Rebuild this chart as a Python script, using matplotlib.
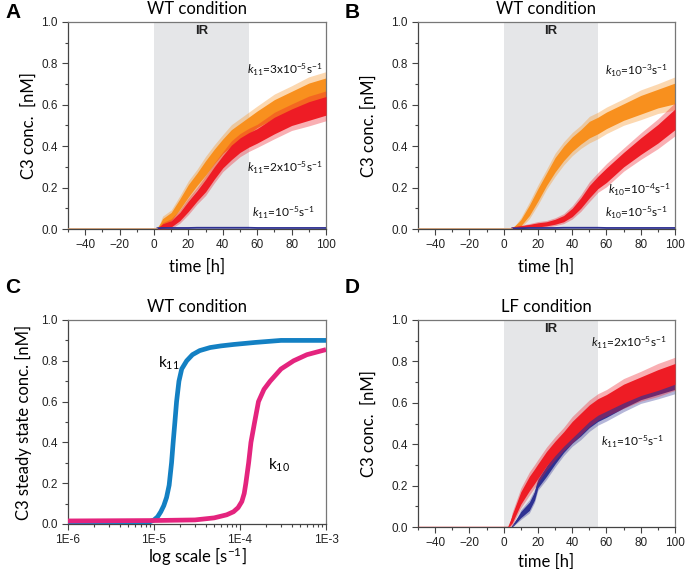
import matplotlib
matplotlib.use("Agg")
import matplotlib.pyplot as plt
from matplotlib.ticker import MultipleLocator, LogLocator, FixedLocator, NullFormatter
import numpy as np

plt.rcParams['font.family'] = ['Lato', 'DejaVu Sans']
plt.rcParams['mathtext.fontset'] = 'custom'
plt.rcParams['mathtext.rm'] = 'Lato'
plt.rcParams['mathtext.it'] = 'Lato:italic'
plt.rcParams['mathtext.bf'] = 'Lato:bold'

# ---------------- data ----------------
# Panel A (WT, varying k11): time [h], centre and half-spread of noisy traces
tA = [2, 5, 10, 15, 20, 25, 30, 35, 40, 45, 50, 55, 60, 70, 80, 90, 100]
A_k11_3e5 = [0.0, 0.03, 0.06, 0.12, 0.185, 0.24, 0.295, 0.35, 0.40, 0.44, 0.47, 0.50, 0.53, 0.58, 0.62, 0.655, 0.68]
A_k11_3e5_sp = [0.0, 0.02, 0.02, 0.025, 0.03, 0.03, 0.035, 0.035, 0.035, 0.04, 0.04, 0.04, 0.04, 0.045, 0.045, 0.05, 0.05]
A_k11_2e5 = [0.0, 0.015, 0.025, 0.06, 0.11, 0.16, 0.21, 0.27, 0.325, 0.37, 0.405, 0.43, 0.45, 0.50, 0.54, 0.57, 0.595]
A_k11_2e5_sp = [0.0, 0.01, 0.015, 0.02, 0.025, 0.025, 0.03, 0.03, 0.03, 0.035, 0.035, 0.035, 0.035, 0.04, 0.04, 0.045, 0.045]
A_k11_1e5 = [0.004, 0.005, 0.005, 0.005, 0.005, 0.006, 0.006, 0.006, 0.006, 0.006, 0.006, 0.006, 0.005, 0.005, 0.005, 0.005, 0.005]

# Panel B (WT, varying k10)
tB = [5, 10, 15, 20, 25, 30, 35, 40, 45, 50, 55, 60, 70, 80, 90, 100]
B_k10_1e3 = [0.0, 0.03, 0.09, 0.165, 0.24, 0.31, 0.365, 0.41, 0.445, 0.48, 0.50, 0.525, 0.565, 0.60, 0.63, 0.655]
B_k10_1e3_sp = [0.0, 0.015, 0.025, 0.03, 0.03, 0.035, 0.035, 0.035, 0.035, 0.04, 0.04, 0.04, 0.04, 0.045, 0.045, 0.05]
B_k10_1e4 = [0.005, 0.01, 0.015, 0.02, 0.025, 0.035, 0.05, 0.08, 0.125, 0.18, 0.225, 0.26, 0.335, 0.40, 0.46, 0.53]
B_k10_1e4_sp = [0.003, 0.005, 0.007, 0.01, 0.01, 0.012, 0.015, 0.02, 0.025, 0.03, 0.03, 0.035, 0.035, 0.04, 0.045, 0.05]
B_k10_1e5 = [0.003, 0.004, 0.005, 0.005, 0.005, 0.005, 0.006, 0.006, 0.006, 0.006, 0.006, 0.005, 0.005, 0.005, 0.005, 0.005]

# Panel C (WT steady state vs rate constant)
k11_rate = [1e-6, 5e-6, 7e-6, 8.9e-6, 1e-5, 1.1e-5, 1.2e-5, 1.3e-5, 1.4e-5, 1.5e-5, 1.6e-5, 1.67e-5,
            1.75e-5, 1.83e-5, 1.95e-5, 2.1e-5, 2.4e-5, 2.8e-5, 3.4e-5, 4.5e-5, 6e-5, 8.4e-5, 1.5e-4, 3e-4, 1e-3]
C_k11 = [0.0, 0.0, 0.003, 0.01, 0.02, 0.035, 0.06, 0.09, 0.13, 0.19, 0.3, 0.4,
         0.5, 0.6, 0.7, 0.76, 0.80, 0.83, 0.85, 0.865, 0.873, 0.88, 0.89, 0.9, 0.9]
k10_rate = [1e-6, 1e-5, 3e-5, 5e-5, 7e-5, 8.4e-5, 9.5e-5, 1.05e-4, 1.12e-4, 1.17e-4, 1.26e-4, 1.34e-4,
            1.48e-4, 1.64e-4, 1.9e-4, 2.24e-4, 3e-4, 4.2e-4, 6e-4, 1e-3]
C_k10 = [0.015, 0.017, 0.02, 0.03, 0.045, 0.06, 0.08, 0.11, 0.15, 0.2, 0.3, 0.4,
         0.5, 0.6, 0.66, 0.7, 0.76, 0.80, 0.83, 0.855]

# Panel D (LF, varying k11)
tD = [3, 5, 10, 15, 18, 20, 25, 30, 35, 40, 45, 50, 55, 60, 70, 80, 90, 100]
D_k11_2e5 = [0.0, 0.04, 0.14, 0.21, 0.245, 0.27, 0.33, 0.38, 0.425, 0.47, 0.51, 0.55, 0.58, 0.60, 0.645, 0.68, 0.71, 0.74]
D_k11_2e5_sp = [0.0, 0.02, 0.03, 0.035, 0.035, 0.035, 0.035, 0.035, 0.035, 0.04, 0.04, 0.04, 0.04, 0.04, 0.045, 0.045, 0.05, 0.05]
tD2 = [5, 10, 15, 18, 20, 25, 30, 35, 40, 45, 50, 55, 60, 70, 80, 90, 100]
D_k11_1e5 = [0.0, 0.06, 0.10, 0.15, 0.21, 0.27, 0.33, 0.385, 0.43, 0.47, 0.51, 0.54, 0.56, 0.605, 0.645, 0.675, 0.70]
D_k11_1e5_sp = [0.0, 0.015, 0.02, 0.02, 0.02, 0.025, 0.025, 0.025, 0.025, 0.03, 0.03, 0.03, 0.03, 0.03, 0.03, 0.035, 0.035]

IR_start, IR_end = 0, 55

# ---------------- style ----------------
ORANGE = '#F8901E'
RED = '#EE1C25'
NAVY = '#2E3192'
CBLUE = '#1380C3'
PINK = '#E4247E'
GRAY_BAND = '#E5E6E8'
SPINE = '#444444'

TICKFONT = 'Liberation Sans'
LABSIZE = 12
TICKSIZE = 8.5

fig = plt.figure(figsize=(6.85, 5.69), dpi=100)
W, H = 685, 569


def ax_rect(l, r, top, bottom):
    return [l / W, 1 - bottom / H, (r - l) / W, (bottom - top) / H]


def style_axes(ax):
    for s in ax.spines.values():
        s.set_color(SPINE)
        s.set_linewidth(0.9)
    ax.spines['top'].set_color('#777777')
    ax.spines['right'].set_color('#777777')
    ax.tick_params(which='both', direction='out', top=False, right=False,
                   colors=SPINE, labelcolor='#222222', labelsize=TICKSIZE, width=0.8)
    ax.tick_params(which='major', length=4)
    ax.tick_params(which='minor', length=2)
    ax.set_ylim(0, 1.0)
    ax.yaxis.set_major_locator(MultipleLocator(0.2))
    ax.yaxis.set_minor_locator(MultipleLocator(0.1))
    ax.yaxis.set_major_formatter(plt.FuncFormatter(lambda v, p: f"{v:.1f}"))


def set_tickfont(ax):
    for lab in ax.get_xticklabels() + ax.get_yticklabels():
        lab.set_fontfamily(TICKFONT)


def time_axes(ax):
    ax.set_xlim(-50, 100)
    ax.xaxis.set_major_locator(MultipleLocator(20))
    ax.xaxis.set_minor_locator(MultipleLocator(10))
    ax.axvspan(IR_start, IR_end, color=GRAY_BAND, lw=0, zorder=0)
    ax.text((IR_start + IR_end) / 2, 0.955, 'IR', ha='center', va='center',
            fontsize=9.5, fontweight='bold', family=TICKFONT, color='#222222')
    style_axes(ax)


def noisy(ax, t, c, sp, color, z):
    c = np.asarray(c); sp = np.asarray(sp)
    ax.fill_between(t, c - 1.6 * sp, c + 1.6 * sp, color=color, alpha=0.35, lw=0, zorder=z)
    ax.fill_between(t, c - sp, c + sp, color=color, alpha=1.0, lw=0, zorder=z + 0.1)
    ax.plot(t, c, color=color, lw=0.8, zorder=z + 0.2)


def kann(ax, x, y, sub, val):
    ax.text(x, y, r'$\mathit{k}_{\mathit{' + sub + r'}}$=' + val, fontsize=8.6,
            ha='left', va='center', color='#111111', zorder=10)


# ---------------- Panel A ----------------
axA = fig.add_axes(ax_rect(68, 326, 22, 229))
time_axes(axA)
noisy(axA, tA, A_k11_3e5, A_k11_3e5_sp, ORANGE, 2)
noisy(axA, tA, A_k11_2e5, A_k11_2e5_sp, RED, 3)
axA.plot(tA, A_k11_1e5, color=NAVY, lw=1.3, zorder=4)
axA.plot([-50, tA[0]], [0, 0], color='#C8946A', lw=1.2, zorder=4)
kann(axA, 54, 0.77, '11', r'3x10$^{\mathrm{-5}}$s$^{\mathrm{-1}}$')
kann(axA, 54, 0.295, '11', r'2x10$^{\mathrm{-5}}$s$^{\mathrm{-1}}$')
kann(axA, 57, 0.08, '11', r'10$^{\mathrm{-5}}$s$^{\mathrm{-1}}$')
axA.set_ylabel('C3 conc.  [nM]', fontsize=LABSIZE)
axA.yaxis.set_label_coords(-0.12, 0.5)
axA.set_xlabel('time [h]', fontsize=LABSIZE, labelpad=5)
axA.set_title('WT condition', fontsize=LABSIZE, pad=6)
set_tickfont(axA)

# ---------------- Panel B ----------------
axB = fig.add_axes(ax_rect(418, 675, 22, 229))
time_axes(axB)
noisy(axB, tB, B_k10_1e3, B_k10_1e3_sp, ORANGE, 2)
noisy(axB, tB, B_k10_1e4, B_k10_1e4_sp, RED, 3)
axB.plot(tB, B_k10_1e5, color=NAVY, lw=1.3, zorder=4)
axB.plot([-50, tB[0]], [0, 0], color='#C8946A', lw=1.2, zorder=4)
kann(axB, 59, 0.765, '10', r'10$^{\mathrm{-3}}$s$^{\mathrm{-1}}$')
kann(axB, 61, 0.19, '10', r'10$^{\mathrm{-4}}$s$^{\mathrm{-1}}$')
kann(axB, 59, 0.077, '10', r'10$^{\mathrm{-5}}$s$^{\mathrm{-1}}$')
axB.set_ylabel('C3 conc. [nM]', fontsize=LABSIZE)
axB.yaxis.set_label_coords(-0.16, 0.5)
axB.set_xlabel('time [h]', fontsize=LABSIZE, labelpad=5)
axB.set_title('WT condition', fontsize=LABSIZE, pad=6)
set_tickfont(axB)

# ---------------- Panel C ----------------
axC = fig.add_axes(ax_rect(68, 326, 320, 524))
axC.set_xscale('log')
axC.set_xlim(1e-6, 1e-3)
axC.plot(k11_rate, C_k11, color=CBLUE, lw=3.4, solid_capstyle='butt', solid_joinstyle='round', zorder=3)
axC.plot(k10_rate, C_k10, color=PINK, lw=3.4, solid_capstyle='butt', solid_joinstyle='round', zorder=4)
style_axes(axC)
axC.xaxis.set_major_locator(FixedLocator([1e-6, 1e-5, 1e-4, 1e-3]))
axC.xaxis.set_major_formatter(plt.FuncFormatter(lambda v, p: f"1E-{-int(round(np.log10(v)))}"))
axC.xaxis.set_minor_locator(LogLocator(base=10, subs=np.arange(2, 10)))
axC.xaxis.set_minor_formatter(NullFormatter())
axC.text(1.12e-5, 0.79, r'k$_{\mathrm{11}}$', fontsize=11, ha='left', va='center')
axC.text(2.1e-4, 0.29, r'k$_{\mathrm{10}}$', fontsize=11, ha='left', va='center')
axC.set_ylabel('C3 steady state conc. [nM]', fontsize=LABSIZE)
axC.yaxis.set_label_coords(-0.14, 0.5)
axC.set_xlabel(r'log scale [s$^{\mathrm{-1}}$]', fontsize=LABSIZE)
axC.xaxis.set_label_coords(0.5, -0.105)
axC.set_title('WT condition', fontsize=LABSIZE, pad=6)
set_tickfont(axC)

# ---------------- Panel D ----------------
axD = fig.add_axes(ax_rect(418, 675, 320, 527))
time_axes(axD)
noisy(axD, tD2, D_k11_1e5, D_k11_1e5_sp, NAVY, 2)
noisy(axD, tD, D_k11_2e5, D_k11_2e5_sp, RED, 3)
axD.plot([-50, tD[0]], [0, 0], color=RED, lw=1.0, zorder=4)
kann(axD, 51, 0.89, '11', r'2x10$^{\mathrm{-5}}$s$^{\mathrm{-1}}$')
kann(axD, 57, 0.41, '11', r'10$^{\mathrm{-5}}$s$^{\mathrm{-1}}$')
axD.set_ylabel('C3 conc.  [nM]', fontsize=LABSIZE)
axD.yaxis.set_label_coords(-0.16, 0.5)
axD.set_xlabel('time [h]', fontsize=LABSIZE, labelpad=3)
axD.set_title('LF condition', fontsize=LABSIZE, pad=6)
set_tickfont(axD)

# panel letters
for lab, x, y in [('A', 5, 3), ('B', 345, 3), ('C', 5, 278), ('D', 345, 278)]:
    fig.text(x / W, 1 - y / H, lab, fontsize=15, fontweight='bold', ha='left', va='top',
             family=TICKFONT)

fig.savefig('out.png', dpi=100)
